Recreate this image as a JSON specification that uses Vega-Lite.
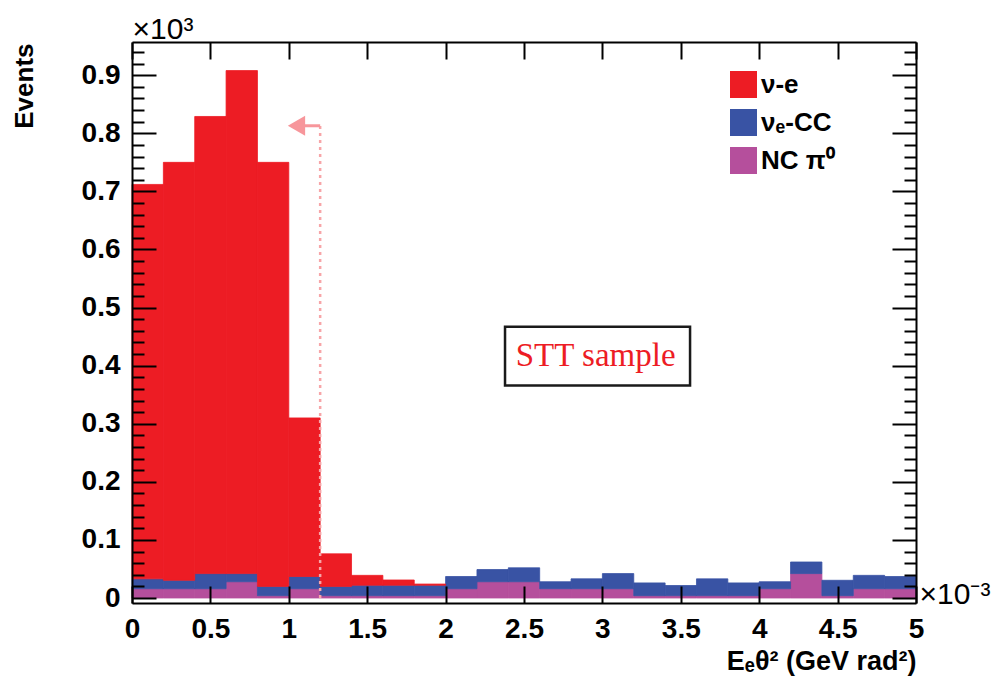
{
  "$schema": "https://vega.github.io/schema/vega-lite/v6.json",
  "width": 784,
  "height": 561,
  "autosize": {"type": "none"},
  "padding": {"left": 132, "top": 42, "right": 80, "bottom": 79},
  "background": "white",
  "datasets": {
    "bins": [
      {"lo": 0.0, "hi": 0.2, "process": "NC π⁰", "events": 0.016, "stack_rank": 1},
      {"lo": 0.2, "hi": 0.4, "process": "NC π⁰", "events": 0.016, "stack_rank": 1},
      {"lo": 0.4, "hi": 0.6, "process": "NC π⁰", "events": 0.016, "stack_rank": 1},
      {"lo": 0.6, "hi": 0.8, "process": "NC π⁰", "events": 0.028, "stack_rank": 1},
      {"lo": 0.8, "hi": 1.0, "process": "NC π⁰", "events": 0.004, "stack_rank": 1},
      {"lo": 1.0, "hi": 1.2, "process": "NC π⁰", "events": 0.016, "stack_rank": 1},
      {"lo": 1.2, "hi": 1.4, "process": "NC π⁰", "events": 0.004, "stack_rank": 1},
      {"lo": 1.4, "hi": 1.6, "process": "NC π⁰", "events": 0.004, "stack_rank": 1},
      {"lo": 1.6, "hi": 1.8, "process": "NC π⁰", "events": 0.004, "stack_rank": 1},
      {"lo": 1.8, "hi": 2.0, "process": "NC π⁰", "events": 0.004, "stack_rank": 1},
      {"lo": 2.0, "hi": 2.2, "process": "NC π⁰", "events": 0.016, "stack_rank": 1},
      {"lo": 2.2, "hi": 2.4, "process": "NC π⁰", "events": 0.028, "stack_rank": 1},
      {"lo": 2.4, "hi": 2.6, "process": "NC π⁰", "events": 0.028, "stack_rank": 1},
      {"lo": 2.6, "hi": 2.8, "process": "NC π⁰", "events": 0.016, "stack_rank": 1},
      {"lo": 2.8, "hi": 3.0, "process": "NC π⁰", "events": 0.016, "stack_rank": 1},
      {"lo": 3.0, "hi": 3.2, "process": "NC π⁰", "events": 0.016, "stack_rank": 1},
      {"lo": 3.2, "hi": 3.4, "process": "NC π⁰", "events": 0.004, "stack_rank": 1},
      {"lo": 3.4, "hi": 3.6, "process": "NC π⁰", "events": 0.004, "stack_rank": 1},
      {"lo": 3.6, "hi": 3.8, "process": "NC π⁰", "events": 0.004, "stack_rank": 1},
      {"lo": 3.8, "hi": 4.0, "process": "NC π⁰", "events": 0.004, "stack_rank": 1},
      {"lo": 4.0, "hi": 4.2, "process": "NC π⁰", "events": 0.016, "stack_rank": 1},
      {"lo": 4.2, "hi": 4.4, "process": "NC π⁰", "events": 0.042, "stack_rank": 1},
      {"lo": 4.4, "hi": 4.6, "process": "NC π⁰", "events": 0.004, "stack_rank": 1},
      {"lo": 4.6, "hi": 4.8, "process": "NC π⁰", "events": 0.016, "stack_rank": 1},
      {"lo": 4.8, "hi": 5.0, "process": "NC π⁰", "events": 0.016, "stack_rank": 1},
      {"lo": 0.0, "hi": 0.2, "process": "νₑ-CC", "events": 0.017, "stack_rank": 2},
      {"lo": 0.2, "hi": 0.4, "process": "νₑ-CC", "events": 0.0145, "stack_rank": 2},
      {"lo": 0.4, "hi": 0.6, "process": "νₑ-CC", "events": 0.026, "stack_rank": 2},
      {"lo": 0.6, "hi": 0.8, "process": "νₑ-CC", "events": 0.014, "stack_rank": 2},
      {"lo": 0.8, "hi": 1.0, "process": "νₑ-CC", "events": 0.016, "stack_rank": 2},
      {"lo": 1.0, "hi": 1.2, "process": "νₑ-CC", "events": 0.021, "stack_rank": 2},
      {"lo": 1.2, "hi": 1.4, "process": "νₑ-CC", "events": 0.016, "stack_rank": 2},
      {"lo": 1.4, "hi": 1.6, "process": "νₑ-CC", "events": 0.018, "stack_rank": 2},
      {"lo": 1.6, "hi": 1.8, "process": "νₑ-CC", "events": 0.018, "stack_rank": 2},
      {"lo": 1.8, "hi": 2.0, "process": "νₑ-CC", "events": 0.018, "stack_rank": 2},
      {"lo": 2.0, "hi": 2.2, "process": "νₑ-CC", "events": 0.021, "stack_rank": 2},
      {"lo": 2.2, "hi": 2.4, "process": "νₑ-CC", "events": 0.021, "stack_rank": 2},
      {"lo": 2.4, "hi": 2.6, "process": "νₑ-CC", "events": 0.024, "stack_rank": 2},
      {"lo": 2.6, "hi": 2.8, "process": "νₑ-CC", "events": 0.012, "stack_rank": 2},
      {"lo": 2.8, "hi": 3.0, "process": "νₑ-CC", "events": 0.017, "stack_rank": 2},
      {"lo": 3.0, "hi": 3.2, "process": "νₑ-CC", "events": 0.026, "stack_rank": 2},
      {"lo": 3.2, "hi": 3.4, "process": "νₑ-CC", "events": 0.022, "stack_rank": 2},
      {"lo": 3.4, "hi": 3.6, "process": "νₑ-CC", "events": 0.0175, "stack_rank": 2},
      {"lo": 3.6, "hi": 3.8, "process": "νₑ-CC", "events": 0.029, "stack_rank": 2},
      {"lo": 3.8, "hi": 4.0, "process": "νₑ-CC", "events": 0.022, "stack_rank": 2},
      {"lo": 4.0, "hi": 4.2, "process": "νₑ-CC", "events": 0.012, "stack_rank": 2},
      {"lo": 4.2, "hi": 4.4, "process": "νₑ-CC", "events": 0.020, "stack_rank": 2},
      {"lo": 4.4, "hi": 4.6, "process": "νₑ-CC", "events": 0.0265, "stack_rank": 2},
      {"lo": 4.6, "hi": 4.8, "process": "νₑ-CC", "events": 0.023, "stack_rank": 2},
      {"lo": 4.8, "hi": 5.0, "process": "νₑ-CC", "events": 0.021, "stack_rank": 2},
      {"lo": 0.0, "hi": 0.2, "process": "ν-e", "events": 0.679, "stack_rank": 3},
      {"lo": 0.2, "hi": 0.4, "process": "ν-e", "events": 0.7195, "stack_rank": 3},
      {"lo": 0.4, "hi": 0.6, "process": "ν-e", "events": 0.787, "stack_rank": 3},
      {"lo": 0.6, "hi": 0.8, "process": "ν-e", "events": 0.866, "stack_rank": 3},
      {"lo": 0.8, "hi": 1.0, "process": "ν-e", "events": 0.730, "stack_rank": 3},
      {"lo": 1.0, "hi": 1.2, "process": "ν-e", "events": 0.273, "stack_rank": 3},
      {"lo": 1.2, "hi": 1.4, "process": "ν-e", "events": 0.056, "stack_rank": 3},
      {"lo": 1.4, "hi": 1.6, "process": "ν-e", "events": 0.017, "stack_rank": 3},
      {"lo": 1.6, "hi": 1.8, "process": "ν-e", "events": 0.009, "stack_rank": 3},
      {"lo": 1.8, "hi": 2.0, "process": "ν-e", "events": 0.002, "stack_rank": 3}
    ]
  },
  "resolve": {"axis": {"x": "independent", "y": "independent"}},
  "layer": [
    {
      "data": {"name": "bins"},
      "transform": [
        {"stack": "events", "groupby": ["lo"], "sort": [{"field": "stack_rank", "order": "ascending"}], "as": ["ev_lo", "ev_hi"]}
      ],
      "mark": {"type": "bar", "strokeWidth": 0.8},
      "encoding": {
        "x": {
          "field": "lo", "type": "quantitative",
          "scale": {"domain": [0, 5], "nice": false, "zero": false},
          "axis": {
            "orient": "bottom", "values": [0, 0.5, 1, 1.5, 2, 2.5, 3, 3.5, 4, 4.5, 5], "format": "~g",
            "ticks": false, "domain": false, "grid": false,
            "labelFontSize": 28, "labelFontWeight": "bold", "labelPadding": 12, "labelFlush": false, "labelOverlap": false,
            "title": "Eₑθ² (GeV rad²)", "titleFontSize": 27, "titleFontWeight": "bold",
            "titleAnchor": "end", "titleAlign": "right", "titleBaseline": "alphabetic", "titleX": 784, "titleY": 66
          }
        },
        "x2": {"field": "hi"},
        "y": {
          "field": "ev_lo", "type": "quantitative",
          "scale": {"domain": [0, 0.9486], "nice": false},
          "axis": {
            "orient": "left", "values": [0, 0.1, 0.2, 0.3, 0.4, 0.5, 0.6, 0.7, 0.8, 0.9], "format": "~g",
            "ticks": false, "domain": false, "grid": false,
            "labelFontSize": 28, "labelFontWeight": "bold", "labelPadding": 12, "labelOverlap": false, "labelFlush": false,
            "title": "Events", "titleFontSize": 26, "titleFontWeight": "bold", "titleAngle": -90,
            "titleAlign": "right", "titleBaseline": "middle", "titleX": -108, "titleY": 1
          }
        },
        "y2": {"field": "ev_hi"},
        "color": {
          "field": "process", "type": "nominal",
          "scale": {"domain": ["ν-e", "νₑ-CC", "NC π⁰"], "range": ["#ED1C24", "#3953A4", "#B54F9C"]},
          "legend": {
            "orient": "none", "legendX": 598, "legendY": 29, "title": null, "padding": 0,
            "symbolType": "square", "symbolSize": 729, "symbolStrokeWidth": 0, "symbolOpacity": 1,
            "labelFontSize": 26, "labelFontWeight": "bold", "labelFont": "Liberation Sans", "labelColor": "black",
            "labelOffset": 4, "rowPadding": 11
          }
        },
        "stroke": {
          "field": "process", "type": "nominal",
          "scale": {"domain": ["ν-e", "νₑ-CC", "NC π⁰"], "range": ["#ED1C24", "#3953A4", "#B54F9C"]},
          "legend": null
        }
      }
    },
    {
      "data": {"name": "bins"},
      "mark": {"type": "bar", "opacity": 0},
      "encoding": {
        "x": {
          "field": "lo", "type": "quantitative",
          "axis": {
            "orient": "top", "offset": -561, "values": [0, 0.5, 1, 1.5, 2, 2.5, 3, 3.5, 4, 4.5, 5],
            "labels": false, "tickSize": 17, "tickWidth": 2, "tickColor": "black",
            "domainWidth": 2, "domainColor": "black", "title": null, "zindex": 2
          }
        },
        "x2": {"field": "hi"},
        "y": {
          "field": "events", "type": "quantitative",
          "axis": {
            "orient": "right", "offset": -784, "values": [0, 0.1, 0.2, 0.3, 0.4, 0.5, 0.6, 0.7, 0.8, 0.9],
            "labels": false, "tickSize": 24, "tickWidth": 2, "tickColor": "black",
            "domainWidth": 2, "domainColor": "black", "title": null, "zindex": 2
          }
        }
      }
    },
    {
      "data": {"name": "bins"},
      "mark": {"type": "bar", "opacity": 0},
      "encoding": {
        "x": {
          "field": "lo", "type": "quantitative",
          "axis": {
            "orient": "top", "values": [0, 0.5, 1, 1.5, 2, 2.5, 3, 3.5, 4, 4.5, 5],
            "labels": false, "tickSize": -17, "tickWidth": 2, "tickColor": "black",
            "domainWidth": 2, "domainColor": "black",
            "title": "×10³", "titleFontSize": 30, "titleFontWeight": "normal", "titleColor": "black",
            "titleAnchor": "start", "titleAlign": "left", "titleBaseline": "alphabetic", "titleX": 0, "titleY": -4, "zindex": 2
          }
        },
        "x2": {"field": "hi"},
        "y": {
          "field": "events", "type": "quantitative",
          "axis": {
            "orient": "right", "offset": -784,
            "values": [0.02, 0.04, 0.06, 0.08, 0.12, 0.14, 0.16, 0.18, 0.22, 0.24, 0.26, 0.28, 0.32, 0.34, 0.36, 0.38, 0.42, 0.44, 0.46, 0.48, 0.52, 0.54, 0.56, 0.58, 0.62, 0.64, 0.66, 0.68, 0.72, 0.74, 0.76, 0.78, 0.82, 0.84, 0.86, 0.88, 0.92, 0.94],
            "labels": false, "tickSize": 12, "tickWidth": 2, "tickColor": "black",
            "domain": false, "title": null, "zindex": 2
          }
        }
      }
    },
    {
      "data": {"name": "bins"},
      "mark": {"type": "bar", "opacity": 0},
      "encoding": {
        "x": {"field": "lo", "type": "quantitative", "axis": null},
        "x2": {"field": "hi"},
        "y": {
          "field": "events", "type": "quantitative",
          "axis": {
            "orient": "right", "values": [0, 0.1, 0.2, 0.3, 0.4, 0.5, 0.6, 0.7, 0.8, 0.9],
            "labels": false, "tickSize": -24, "tickWidth": 2, "tickColor": "black",
            "domainWidth": 2, "domainColor": "black",
            "title": "×10⁻³", "titleFontSize": 30, "titleFontWeight": "normal", "titleColor": "black", "titleAngle": 0,
            "titleAlign": "left", "titleBaseline": "alphabetic", "titleX": 3, "titleY": 561, "zindex": 2
          }
        }
      }
    },
    {
      "data": {"name": "bins"},
      "mark": {"type": "bar", "opacity": 0},
      "encoding": {
        "x": {"field": "lo", "type": "quantitative", "axis": null},
        "x2": {"field": "hi"},
        "y": {
          "field": "events", "type": "quantitative",
          "axis": {
            "orient": "right",
            "values": [0.02, 0.04, 0.06, 0.08, 0.12, 0.14, 0.16, 0.18, 0.22, 0.24, 0.26, 0.28, 0.32, 0.34, 0.36, 0.38, 0.42, 0.44, 0.46, 0.48, 0.52, 0.54, 0.56, 0.58, 0.62, 0.64, 0.66, 0.68, 0.72, 0.74, 0.76, 0.78, 0.82, 0.84, 0.86, 0.88, 0.92, 0.94],
            "labels": false, "tickSize": -12, "tickWidth": 2, "tickColor": "black",
            "domain": false, "title": null, "zindex": 2
          }
        }
      }
    },
    {
      "data": {"values": [{}]},
      "mark": {"type": "rule", "color": "#F7A5A8", "strokeWidth": 2.5, "strokeDash": [3, 4]},
      "encoding": {
        "x": {"datum": 1.2, "type": "quantitative", "axis": null},
        "y": {"datum": 0, "type": "quantitative", "axis": null},
        "y2": {"datum": 0.813}
      }
    },
    {
      "data": {"values": [{}]},
      "mark": {"type": "rule", "color": "#F7969B", "strokeWidth": 3},
      "encoding": {
        "x": {"datum": 1.103, "type": "quantitative", "axis": null},
        "x2": {"datum": 1.2},
        "y": {"datum": 0.813, "type": "quantitative", "axis": null}
      }
    },
    {
      "data": {"values": [{}]},
      "mark": {"type": "point", "shape": "triangle-left", "filled": true, "size": 400, "color": "#F7969B", "opacity": 1, "strokeWidth": 0},
      "encoding": {
        "x": {"datum": 1.049, "type": "quantitative", "axis": null},
        "y": {"datum": 0.813, "type": "quantitative", "axis": null}
      }
    },
    {
      "data": {"values": [{}]},
      "mark": {"type": "rect", "fill": "white", "stroke": "#1a1a1a", "strokeWidth": 2.5},
      "encoding": {
        "x": {"datum": 2.379, "type": "quantitative", "axis": null},
        "x2": {"datum": 3.559},
        "y": {"datum": 0.366, "type": "quantitative", "axis": null},
        "y2": {"datum": 0.467}
      }
    },
    {
      "data": {"values": [{}]},
      "mark": {"type": "text", "font": "Liberation Serif", "fontSize": 33, "color": "#ED1C24", "align": "center", "baseline": "middle"},
      "encoding": {
        "x": {"datum": 2.957, "type": "quantitative", "axis": null},
        "y": {"datum": 0.4165, "type": "quantitative", "axis": null},
        "text": {"value": "STT sample"}
      }
    }
  ],
  "config": {
    "font": "Liberation Sans",
    "view": {"stroke": null},
    "axis": {"labelFont": "Liberation Sans", "titleFont": "Liberation Sans", "labelColor": "black", "titleColor": "black", "grid": false}
  }
}
